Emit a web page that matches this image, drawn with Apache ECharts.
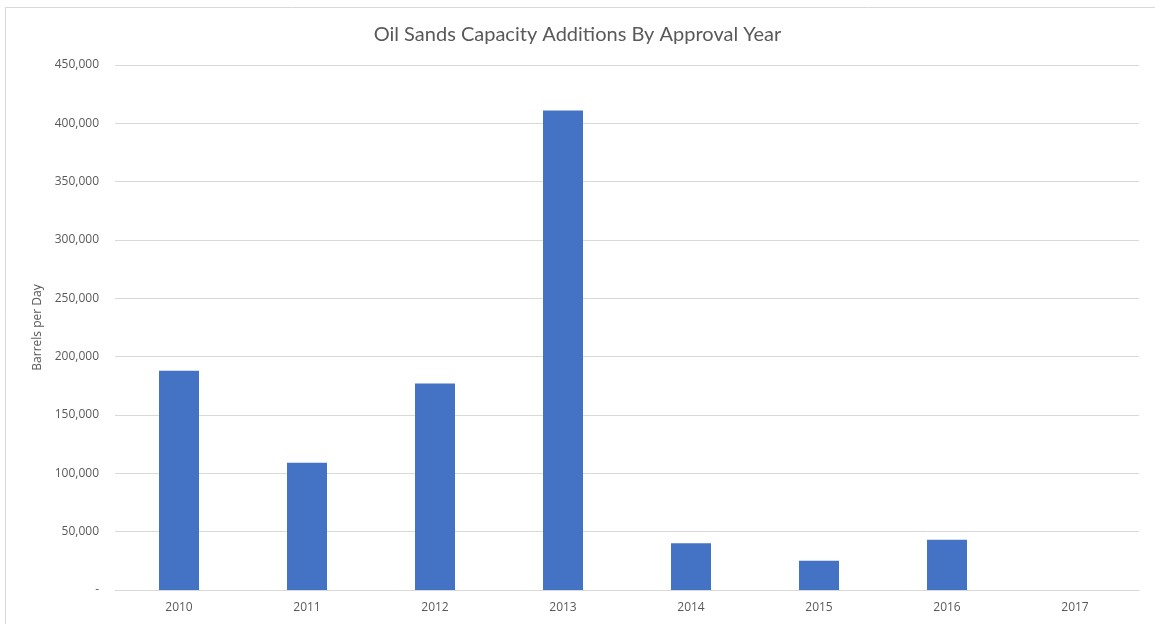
<!DOCTYPE html>
<html>
<head>
<meta charset="utf-8">
<script src="https://cdn.jsdelivr.net/npm/echarts@6/dist/echarts.min.js"></script>
<style>
html,body{margin:0;padding:0;background:#fff;}
#chart{width:1155px;height:624px;}
</style>
</head>
<body>
<div id="chart"></div>
<script>
const categories = ['2010','2011','2012','2013','2014','2015','2016','2017'];
const barrelsPerDay = [188000, 109000, 177000, 411000, 40000, 25000, 43000, 0];
const titleText = 'Oil Sands Capacity Additions By Approval Year';
const yAxisName = 'Barrels per Day';

const chart = echarts.init(document.getElementById('chart'), null, {renderer:'canvas'});
chart.setOption({
  animation:false,
  backgroundColor:'#ffffff',
  title:{
    text:titleText,
    left:'center',
    top:20,
    textStyle:{fontFamily:'Lato', fontWeight:'normal', fontSize:20, color:'#595959'}
  },
  graphic:[
    {type:'line', shape:{x1:5,y1:7.5,x2:1155,y2:7.5}, style:{stroke:'#d9d9d9', lineWidth:1}},
    {type:'line', shape:{x1:5.5,y1:7,x2:5.5,y2:624}, style:{stroke:'#d9d9d9', lineWidth:1}}
  ],
  grid:{left:115, right:16, top:65, bottom:34, containLabel:false},
  xAxis:{
    type:'category',
    data:categories,
    axisLine:{show:true, lineStyle:{color:'#d9d9d9'}},
    axisTick:{show:false},
    axisLabel:{color:'#595959', fontSize:12, fontFamily:'Open Sans', margin:12}
  },
  yAxis:{
    type:'value',
    min:0, max:450000, interval:50000,
    name:yAxisName,
    nameLocation:'middle',
    nameGap:71,
    nameTextStyle:{color:'#595959', fontSize:12, fontFamily:'Open Sans'},
    axisLine:{show:false},
    axisTick:{show:false},
    splitLine:{lineStyle:{color:'#d9d9d9'}},
    axisLabel:{
      color:'#595959', fontSize:12, fontFamily:'Open Sans', margin:16,
      formatter:function(v){ return v===0 ? '-' : v.toLocaleString('en-US'); }
    }
  },
  series:[{
    type:'bar',
    data:barrelsPerDay,
    barWidth:40,
    itemStyle:{color:'#4472C4'}
  }]
});
</script>
</body>
</html>
